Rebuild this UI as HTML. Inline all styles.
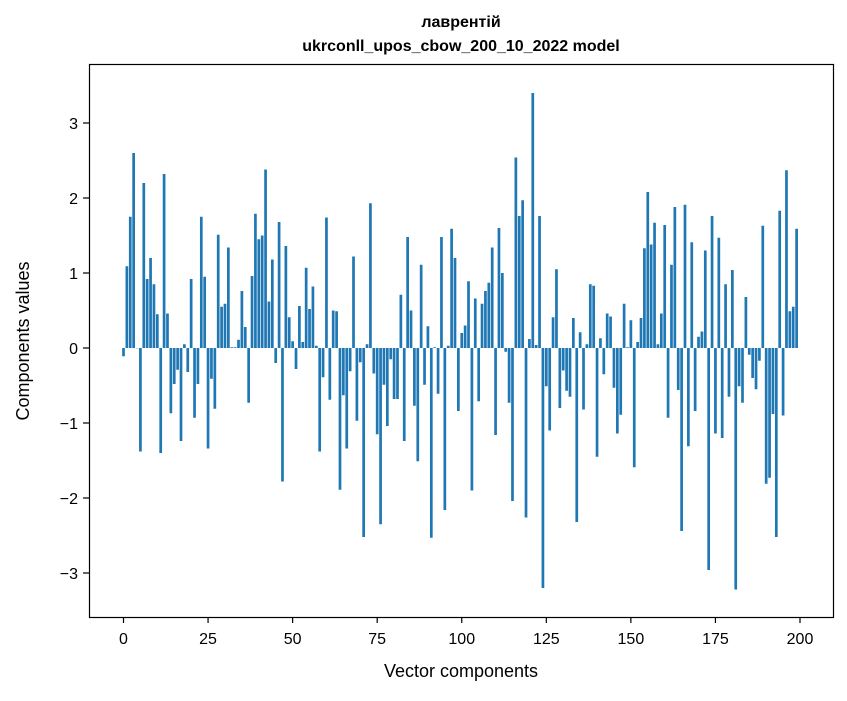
<!DOCTYPE html>
<html><head><meta charset="utf-8"><style>
body{margin:0;background:#fff;}
svg text{font-family:"Liberation Sans","DejaVu Sans",sans-serif;fill:#000;}
</style></head><body>
<svg width="847" height="696" viewBox="0 0 847 696" xmlns="http://www.w3.org/2000/svg">
<rect width="847" height="696" fill="#fff"/>
<text x="461" y="27" text-anchor="middle" font-size="16" font-weight="bold">лаврентій</text>
<text x="461" y="51" text-anchor="middle" font-size="16" font-weight="bold">ukrconll_upos_cbow_200_10_2022 model</text>
<g id="bars"></g>
<g id="axes"></g>
<rect x="89.5" y="64.5" width="744" height="553" fill="none" stroke="#000" stroke-width="1.2"/>
<text x="461" y="677" text-anchor="middle" font-size="18">Vector components</text>
<text transform="translate(29,341) rotate(-90)" text-anchor="middle" font-size="18">Components values</text>
</svg>
<script>
const values = [
-0.11,1.09,1.75,2.6,0,-1.38,2.2,0.92,1.2,0.85,0.45,-1.4,2.32,0.46,-0.87,-0.48,-0.29,-1.24,0.05,-0.32,
0.92,-0.93,-0.48,1.75,0.95,-1.34,-0.41,-0.81,1.51,0.55,0.59,1.34,0.01,0.01,0.11,0.76,0.28,-0.73,0.96,1.79,
1.45,1.5,2.38,0.62,1.18,-0.2,1.68,-1.78,1.36,0.41,0.09,-0.28,0.56,0.08,1.07,0.52,0.82,0.03,-1.38,-0.39,
1.74,-0.69,0.5,0.49,-1.89,-0.63,-1.34,-0.31,1.22,-0.97,-0.19,-2.52,0.05,1.93,-0.34,-1.15,-2.35,-0.49,-1.04,-0.15,
-0.68,-0.68,0.71,-1.24,1.48,0.5,-0.77,-1.51,1.11,-0.49,0.29,-2.53,0.01,-0.61,1.48,-2.16,0.03,1.59,1.2,-0.84,
0.2,0.3,0.89,-1.9,0.66,-0.71,0.59,0.76,0.87,1.34,-1.16,1.6,1.0,-0.05,-0.73,-2.04,2.54,1.76,1.97,-2.26,
0.12,3.4,0.04,1.76,-3.2,-0.51,-1.1,0.41,1.05,-0.8,-0.3,-0.57,-0.65,0.4,-2.32,0.21,-0.82,0.05,0.85,0.83,
-1.45,0.13,-0.35,0.46,0.42,-0.53,-1.14,-0.89,0.59,0.01,0.37,-1.59,0.08,0.4,1.33,2.08,1.38,1.67,0.05,0.46,
1.64,-0.93,1.11,1.88,-0.56,-2.44,1.91,-1.31,1.41,-0.84,0.15,0.22,1.3,-2.96,1.76,-1.14,1.47,-1.2,0.85,-0.65,
1.04,-3.22,-0.51,-0.73,0.68,-0.09,-0.4,-0.55,-0.17,1.63,-1.81,-1.73,-0.88,-2.52,1.83,-0.9,2.37,0.49,0.55,1.59
];
const xTicks = [0,25,50,75,100,125,150,175,200];
const yTicks = [-3,-2,-1,0,1,2,3];
const yTickLabels = ["\u22123","\u22122","\u22121","0","1","2","3"];

const NS = "http://www.w3.org/2000/svg";
function xScale(v){ return 123.5 + v * (800 - 123.5) / 200; }
function yScale(v){ return 348 - v * 75; }

const barsG = document.getElementById('bars');
const bw = 0.8 * (800 - 123.5) / 200;
values.forEach((v, i) => {
  const r = document.createElementNS(NS, 'rect');
  
  
  const y0 = yScale(0), y1 = yScale(v);
  r.setAttribute('x', xScale(i) - bw / 2);
  r.setAttribute('y', Math.min(y0, y1));
  r.setAttribute('width', bw);
  r.setAttribute('height', Math.max(Math.abs(y1 - y0), 0.3));
  r.setAttribute('fill', '#1f77b4');
  barsG.appendChild(r);
});

const axesG = document.getElementById('axes');
xTicks.forEach(t => {
  const x = xScale(t);
  const l = document.createElementNS(NS, 'line');
  
  
  l.setAttribute('x1', x); l.setAttribute('x2', x);
  l.setAttribute('y1', 617); l.setAttribute('y2', 623);
  l.setAttribute('stroke', '#000'); l.setAttribute('stroke-width', '1.2');
  axesG.appendChild(l);
  const tx = document.createElementNS(NS, 'text');
  
  
  tx.setAttribute('x', x); tx.setAttribute('y', 644);
  tx.setAttribute('text-anchor', 'middle'); tx.setAttribute('font-size', '16');
  tx.textContent = t;
  axesG.appendChild(tx);
});
yTicks.forEach((t, k) => {
  const y = yScale(t);
  const l = document.createElementNS(NS, 'line');
  
  
  l.setAttribute('x1', 83); l.setAttribute('x2', 89);
  l.setAttribute('y1', y); l.setAttribute('y2', y);
  l.setAttribute('stroke', '#000'); l.setAttribute('stroke-width', '1.2');
  axesG.appendChild(l);
  const tx = document.createElementNS(NS, 'text');
  
  
  tx.setAttribute('x', 78); tx.setAttribute('y', y + 6);
  tx.setAttribute('text-anchor', 'end'); tx.setAttribute('font-size', '16');
  tx.textContent = yTickLabels[k];
  axesG.appendChild(tx);
});
</script>
</body></html>
